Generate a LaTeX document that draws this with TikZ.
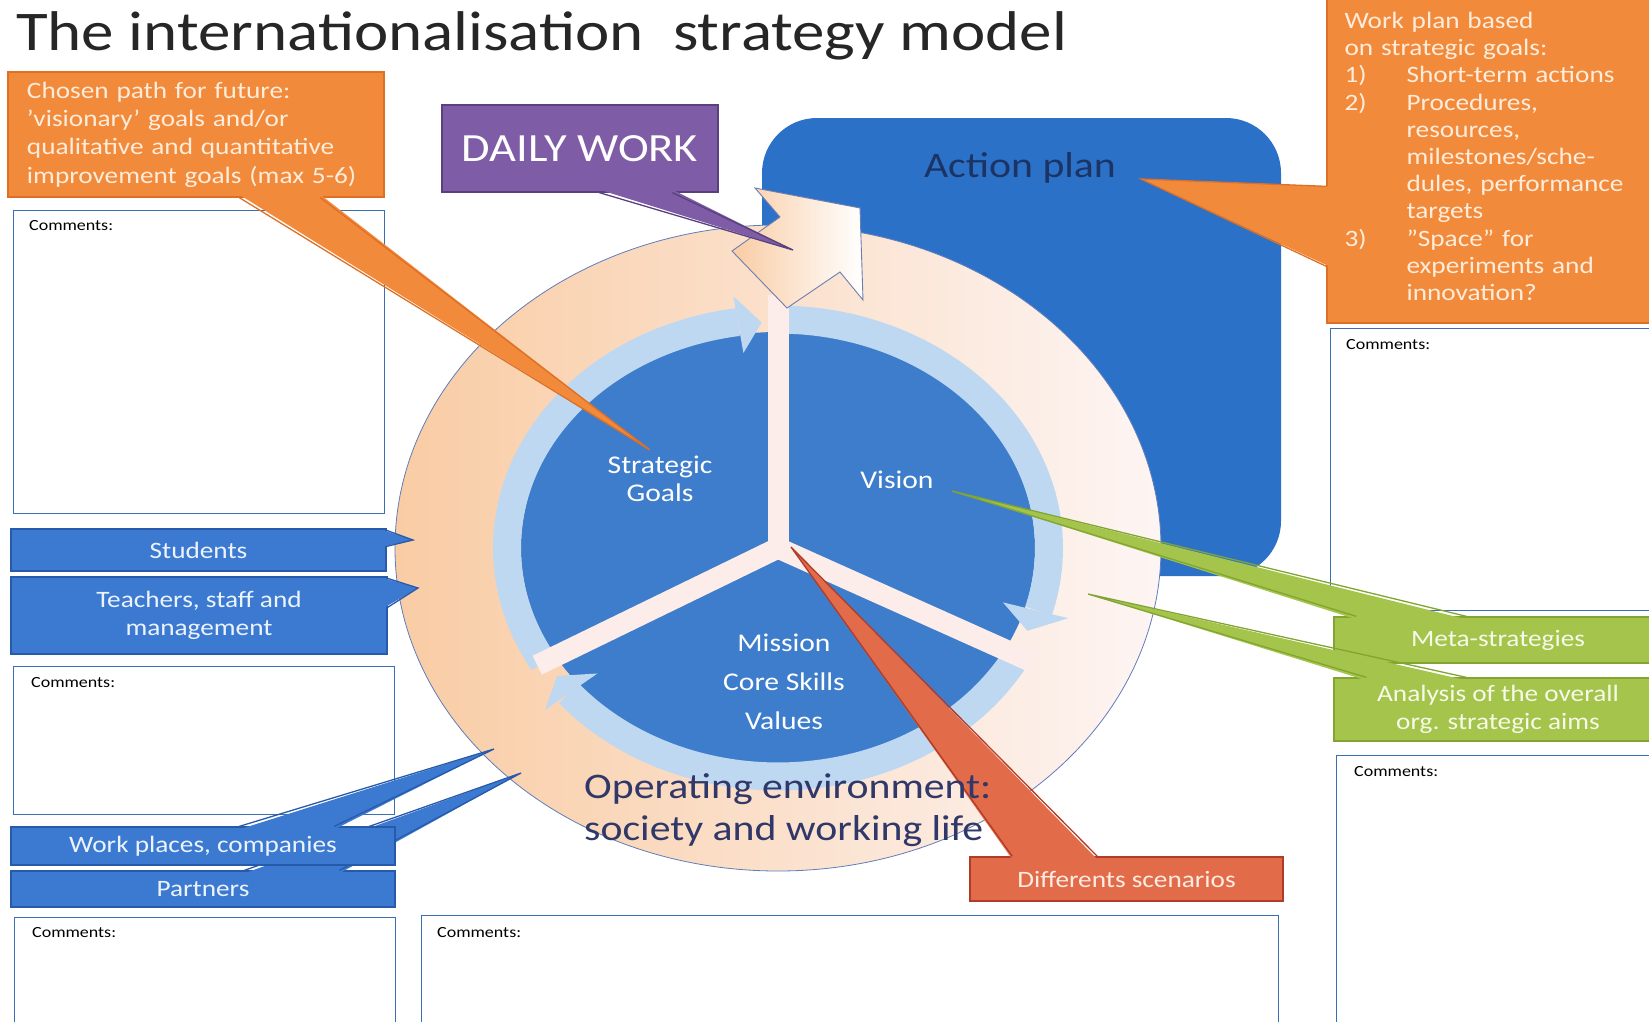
\documentclass[tikz,border=0pt]{standalone}
\usepackage{fontspec}
\setmainfont{Carlito}[FakeStretch=1.16]
\usetikzlibrary{calc}

\definecolor{orangefill}{RGB}{242,138,60}
\definecolor{orangeline}{RGB}{222,112,38}
\definecolor{orangetext}{RGB}{255,236,218}
\definecolor{bluefill}{RGB}{60,122,210}
\definecolor{blueline}{RGB}{40,90,170}
\definecolor{bluetext}{RGB}{236,243,252}
\definecolor{greenfill}{RGB}{165,196,76}
\definecolor{greenline}{RGB}{130,165,50}
\definecolor{greentext}{RGB}{246,250,232}
\definecolor{redfill}{RGB}{226,108,74}
\definecolor{redline}{RGB}{176,60,40}
\definecolor{redtext}{RGB}{255,236,226}
\definecolor{purplefill}{RGB}{127,92,166}
\definecolor{purpleline}{RGB}{90,64,125}
\definecolor{actionblue}{RGB}{44,113,200}
\definecolor{discblue}{RGB}{62,125,204}
\definecolor{ringblue}{RGB}{190,216,242}
\definecolor{spokepink}{RGB}{252,236,234}
\definecolor{peachL}{RGB}{249,204,164}
\definecolor{peachR}{RGB}{253,245,244}
\definecolor{ellipseline}{RGB}{95,125,185}
\definecolor{arrowline}{RGB}{110,125,175}
\definecolor{comline}{RGB}{60,110,180}
\definecolor{actionnavy}{RGB}{28,52,100}
\definecolor{envnavy}{RGB}{48,55,105}
\definecolor{titlegray}{RGB}{38,38,38}

\newcommand{\lblfont}{\fontsize{23.5}{28.4}\selectfont}
\newcommand{\comfont}{\fontsize{15.5}{18}\selectfont}
\newcommand{\ringfont}{\fontsize{25.5}{28}\selectfont}

\tikzset{
  boxline/.style={line width=1.3pt},
  callbox/.style={boxline, inner sep=0pt, align=center, font=\lblfont},
  orangebox/.style={callbox, fill=orangefill, draw=orangeline, text=orangetext},
  bluebox/.style={callbox, fill=bluefill, draw=blueline, text=bluetext},
  greenbox/.style={callbox, fill=greenfill, draw=greenline, text=greentext},
  redbox/.style={callbox, fill=redfill, draw=redline, text=redtext},
  purplebox/.style={callbox, fill=purplefill, draw=purpleline, text=white},
  combox/.style={draw=comline, line width=1pt, fill=white, inner sep=0pt},
  comtext/.style={anchor=west, inner sep=0pt, font=\comfont, text=black},
  ringtext/.style={inner sep=0pt, align=center, font=\ringfont, text=white},
  ringband/.style={draw=ringblue, line width=28pt},
  spoke/.style={draw=spokepink, line width=21pt},
}

\begin{document}
\begin{tikzpicture}[x=1pt,y=1pt,yscale=-1,xscale=1]
\useasboundingbox (0,0) rectangle (1649,1021);
\clip (0,0) rectangle (1649,1021);

%Shape: Action plan
\fill[actionblue, rounded corners=55pt] (762,118) rectangle (1281,576);
% Text Node
\node[inner sep=0pt, font=\fontsize{36}{40}\selectfont, text=actionnavy] (actionlbl) at (1020,168) {Action plan};

%Shape: Operating environment ring
\shadedraw[left color=peachL, right color=peachR, draw=ellipseline, line width=0.8pt] (778,548) ellipse [x radius=383, y radius=323];
%Shape: Core disc
\fill[discblue] (778,548) ellipse [x radius=257, y radius=216];

% ring arrows and spokes
\begin{scope}[shift={(778,548)}, yscale=-0.843]
  \draw[ringband] (90:271) arc[start angle=90, end angle=-16, radius=271];
  \draw[ringband] (-28:271) arc[start angle=-28, end angle=-140.5, radius=271];
  \draw[ringband] (210:271) arc[start angle=210, end angle=98.5, radius=271];
  \fill[ringblue] (98.5:234) -- (93.5:268) -- (98.5:302) -- cycle;
  \fill[ringblue] (-16:234) -- (-21.5:268) -- (-16:302) -- cycle;
  \fill[ringblue] (-140.5:234) -- (-145.5:268) -- (-140.5:302) -- cycle;
  \draw[spoke] (0,0) -- (90:300);
  \draw[spoke] (0,0) -- (-28:287);
  \draw[spoke] (0,0) -- (-150:278);
\end{scope}

%Shape: Arrow to action plan
\shadedraw[left color=peachL, right color=white, draw=arrowline, line width=0.9pt] (755,188) -- (780,217) -- (732,251) -- (787,308) -- (840,272) -- (863,300) -- (860,208) -- cycle;

% Text Node
\node[ringtext] (goals) at (660,479) {Strategic\\Goals};
% Text Node
\node[ringtext] (vision) at (897,480) {Vision};
% Text Node
\node[ringtext, font=\fontsize{25.5}{39}\selectfont] (mission) at (784,682) {Mission\\Core Skills\\Values};

%Shape: Comment boxes
\node[combox, minimum width=371pt, minimum height=303pt] (com1) at (198.5,361.5) {};
\node[comtext] (com1lbl) at (29,226) {Comments:};
\node[combox, minimum width=381pt, minimum height=148pt] (com2) at (203.5,740) {};
\node[comtext] (com2lbl) at (31,683) {Comments:};
\node[combox, minimum width=381pt, minimum height=123pt] (com3) at (204.5,978.5) {};
\node[comtext] (com3lbl) at (32,933) {Comments:};
\node[combox, minimum width=857pt, minimum height=125pt] (com4) at (849.5,977.5) {};
\node[comtext] (com4lbl) at (437,933) {Comments:};
\node[combox, minimum width=332pt, minimum height=282pt] (com5) at (1496,469) {};
\node[comtext] (com5lbl) at (1346,345) {Comments:};
\node[combox, minimum width=326pt, minimum height=285pt] (com6) at (1499,897.5) {};
\node[comtext] (com6lbl) at (1354,772) {Comments:};

% pointer tips
\coordinate (tipGoals) at (650,450);
\coordinate (tipDaily) at (793,250);
\coordinate (tipAction) at (1141,179);
\coordinate (tipStudents) at (413,540);
\coordinate (tipTeachers) at (418,588);
\coordinate (tipWorks) at (494,749);
\coordinate (tipPartners) at (521,773);
\coordinate (tipVision) at (952,491);
\coordinate (tipAnalysis) at (1088,594);
\coordinate (tipCentre) at (791,547);

%Callout: Chosen path
\node[orangebox, minimum width=376pt, minimum height=125pt, text width=338pt, align=left] (chosen) at (196,134.5) {Chosen path for future:\\’visionary’ goals and/or\\qualitative and quantitative\\improvement goals (max 5-6)};
\fill[orangefill] ($(chosen.south west)+(232,-3)$) -- (tipGoals) -- ($(chosen.south west)+(313,-3)$) -- cycle;
\draw[orangeline, boxline] ($(chosen.south west)+(232,0)$) -- (tipGoals) -- ($(chosen.south west)+(313,0)$);

%Callout: Daily work
\node[purplebox, minimum width=276pt, minimum height=87pt, font=\fontsize{40}{42}\selectfont] (daily) at (580,148.5) {DAILY WORK};
\fill[purplefill] ($(daily.south west)+(158,-3)$) -- (tipDaily) -- ($(daily.south west)+(231,-3)$) -- cycle;
\draw[purpleline, boxline] ($(daily.south west)+(158,0)$) -- (tipDaily) -- ($(daily.south west)+(231,0)$);

%Callout: Work plan
\node[orangebox, minimum width=335pt, minimum height=333pt, text width=300pt, align=left, font=\fontsize{23.5}{27.2}\selectfont] (workplan) at (1494.5,156.5) {Work plan based\\on strategic goals:\\\makebox[62pt][l]{1)}Short-term actions\\\makebox[62pt][l]{2)}Procedures,\\\hspace*{62pt}resources,\\\hspace*{62pt}milestones/sche-\\\hspace*{62pt}dules, performance\\\hspace*{62pt}targets\\\makebox[62pt][l]{3)}”Space” for\\\hspace*{62pt}experiments and\\\hspace*{62pt}innovation?};
\fill[orangefill] ($(workplan.north west)+(3,197)$) -- (tipAction) -- ($(workplan.north west)+(3,277)$) -- cycle;
\draw[orangeline, boxline] ($(workplan.north west)+(0,197)$) -- (tipAction) -- ($(workplan.north west)+(0,277)$);

%Callout: Students
\node[bluebox, minimum width=375pt, minimum height=42pt] (students) at (198.5,550) {Students};
\fill[bluefill] ($(students.north east)+(-3,2)$) -- (tipStudents) -- ($(students.north east)+(-3,18)$) -- cycle;
\draw[blueline, boxline] ($(students.north east)+(0,2)$) -- (tipStudents) -- ($(students.north east)+(0,18)$);

%Callout: Teachers
\node[bluebox, minimum width=376pt, minimum height=77pt] (teachers) at (199,615.5) {Teachers, staff and\\management};
\fill[bluefill] ($(teachers.north east)+(-3,2)$) -- (tipTeachers) -- ($(teachers.north east)+(-3,31)$) -- cycle;
\draw[blueline, boxline] ($(teachers.north east)+(0,2)$) -- (tipTeachers) -- ($(teachers.north east)+(0,31)$);

%Callout: Partners
\node[bluebox, minimum width=384pt, minimum height=36pt] (partners) at (203,889) {Partners};
\fill[bluefill] ($(partners.north west)+(234,3)$) -- (tipPartners) -- ($(partners.north west)+(329,3)$) -- cycle;
\draw[blueline, boxline] ($(partners.north west)+(234,0)$) -- (tipPartners) -- ($(partners.north west)+(329,0)$);

%Callout: Work places
\node[bluebox, minimum width=384pt, minimum height=38pt] (works) at (203,846) {Work places, companies};
\fill[bluefill] ($(works.north west)+(229,3)$) -- (tipWorks) -- ($(works.north west)+(324,3)$) -- cycle;
\draw[blueline, boxline] ($(works.north west)+(229,0)$) -- (tipWorks) -- ($(works.north west)+(324,0)$);

%Callout: Meta-strategies
\node[greenbox, minimum width=328pt, minimum height=46pt] (meta) at (1498,640) {Meta-strategies};
\fill[greenfill] ($(meta.north west)+(23,3)$) -- (tipVision) -- ($(meta.north west)+(133,3)$) -- cycle;
\draw[greenline, boxline] ($(meta.north west)+(23,0)$) -- (tipVision) -- ($(meta.north west)+(133,0)$);

%Callout: Analysis
\node[greenbox, minimum width=328pt, minimum height=63pt] (analysis) at (1498,709.5) {Analysis of the overall\\org. strategic aims};
\fill[greenfill] ($(analysis.north west)+(33,3)$) -- (tipAnalysis) -- ($(analysis.north west)+(133,3)$) -- cycle;
\draw[greenline, boxline] ($(analysis.north west)+(33,0)$) -- (tipAnalysis) -- ($(analysis.north west)+(133,0)$);

%Callout: Scenarios
\node[redbox, minimum width=313pt, minimum height=44pt] (scen) at (1126.5,879) {Differents scenarios};
\fill[redfill] ($(scen.north west)+(43,3)$) -- (tipCentre) -- ($(scen.north west)+(128,3)$) -- cycle;
\draw[redline, boxline] ($(scen.north west)+(43,0)$) -- (tipCentre) -- ($(scen.north west)+(128,0)$);

% Text Node
\node[anchor=west, inner sep=0pt, align=left, font=\fontsize{36}{42}\selectfont, text=envnavy] (environment) at (584,810) {Operating environment:\\society and working life};
% Text Node
\node[anchor=base west, inner sep=0pt, font=\fontsize{56}{60}\selectfont, text=titlegray] (title) at (16,50) {The internationalisation\ \ strategy model};
\end{tikzpicture}
\end{document}
